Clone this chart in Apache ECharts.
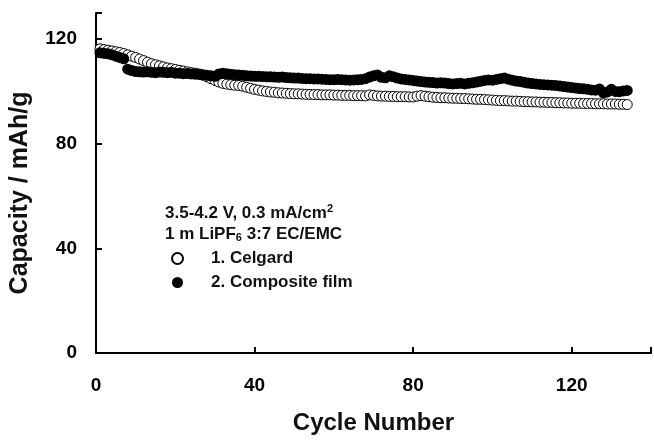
<!DOCTYPE html>
<html>
<head>
<meta charset="utf-8">
<script src="https://cdn.jsdelivr.net/npm/echarts@6/dist/echarts.min.js"></script>
<style>html,body{margin:0;padding:0;background:#fff;}#c{width:654px;height:440px;}</style>
</head>
<body>
<div id="c"></div>
<script>
const xTicks = [0, 40, 80, 120];
const yTicks = [0, 40, 80, 120];
const seriesNames = ['1. Celgard', '2. Composite film'];
const celgard = [
116.3,116.0,115.8,115.5,115.2,114.9,114.5,
114.0,113.5,113.0,112.4,111.8,111.2,110.6,
110.2,109.8,109.4,109.0,108.7,108.4,
108.1,107.8,107.5,107.2,107.0,106.7,106.2,105.6,104.9,104.2,
103.6,103.1,102.8,102.6,102.4,102.3,102.0,101.6,101.2,100.8,
100.5,100.2,100.0,99.8,99.7,99.5,99.4,99.3,99.2,99.1,
99.1,99.0,98.9,98.9,98.8,98.8,98.7,98.7,98.7,98.6,
98.6,98.5,98.5,98.5,98.4,98.4,98.4,98.3,98.7,98.5,
98.3,98.2,98.2,98.1,98.1,98.0,98.0,98.0,97.9,97.9,
98.2,98.4,98.2,98.0,97.8,97.7,97.6,97.6,97.5,97.4,
97.4,97.3,97.3,97.2,97.1,97.0,97.0,96.9,96.8,96.7,
96.6,96.5,96.5,96.4,96.3,96.3,96.2,96.1,96.1,96.0,
96.0,95.9,95.9,95.8,95.8,95.7,95.7,95.6,95.6,95.5,
95.5,95.5,95.4,95.4,95.4,95.3,95.3,95.3,95.2,95.2,
95.2,95.1,95.1,95.0
];
const composite = [
114.8,114.6,114.4,114.0,113.5,113.0,112.5,
108.5,108.0,107.6,107.5,107.4,107.5,107.3,
107.2,107.4,107.3,107.2,107.3,107.0,
107.0,106.8,106.9,106.7,106.6,106.5,106.4,106.2,106.0,105.8,
106.7,107.0,106.8,106.6,106.4,106.3,106.2,106.0,105.9,105.8,
105.8,105.7,105.6,105.6,105.5,105.4,105.5,105.3,105.2,105.1,
105.1,105.0,104.9,104.9,104.8,104.8,104.7,104.6,104.5,104.5,
104.6,104.5,104.4,104.3,104.4,104.5,104.6,104.9,105.5,106.0,
106.3,105.4,105.2,106.0,105.6,105.1,104.8,104.6,104.4,104.2,
104.0,103.8,103.6,103.5,103.4,103.2,103.3,103.2,103.0,102.9,
103.0,103.1,102.9,103.1,103.3,103.6,103.9,104.2,104.4,104.3,
104.6,104.9,105.1,104.7,104.3,104.0,103.8,103.5,103.2,103.0,
102.9,102.7,102.6,102.5,102.4,102.3,102.1,101.9,101.7,101.5,
101.3,101.1,101.0,100.8,100.6,100.5,100.9,99.5,99.8,100.8,
100.0,99.9,100.2,100.4
];
const cycles = celgard.map((_, i) => i + 1);
const font = '"Liberation Sans", Arial, sans-serif';

const chart = echarts.init(document.getElementById('c'), null, {renderer: 'canvas'});
chart.setOption({
  animation: false,
  backgroundColor: '#fff',
  grid: {left: 96, right: 1, top: 13, bottom: 82, containLabel: false},
  xAxis: {
    type: 'value', min: 0, max: 140, interval: 40,
    name: 'Cycle Number', nameLocation: 'middle', nameGap: 58,
    nameTextStyle: {fontFamily: font, fontWeight: 'bold', fontSize: 24, color: '#111'},
    axisLine: {show: true, lineStyle: {color: '#000', width: 2}},
    axisTick: {show: true, inside: true, length: 6, lineStyle: {color: '#000', width: 2}},
    axisLabel: {margin: 23, fontFamily: font, fontWeight: 'bold', fontSize: 19, color: '#000',
      formatter: v => xTicks.includes(v) ? String(v) : ''},
    splitLine: {show: false}
  },
  yAxis: {
    type: 'value', min: 0, max: 130, interval: 40,
    name: 'Capacity / mAh/g', nameLocation: 'middle', nameGap: 63,
    nameTextStyle: {fontFamily: font, fontWeight: 'bold', fontSize: 25, color: '#111', padding: [0, 20, 0, 0]},
    axisLine: {show: true, lineStyle: {color: '#000', width: 2}},
    axisTick: {show: true, inside: true, length: 6, lineStyle: {color: '#000', width: 2}},
    axisLabel: {margin: 19, fontFamily: font, fontWeight: 'bold', fontSize: 19, color: '#000',
      formatter: v => yTicks.includes(v) ? String(v) : ''},
    splitLine: {show: false}
  },
  legend: {
    orient: 'vertical', left: 166, top: 245, itemGap: 7,
    itemWidth: 11, itemHeight: 11, icon: 'circle',
    textStyle: {fontFamily: font, fontWeight: 'bold', fontSize: 17, color: '#111', padding: [0, 0, 0, 23]},
    data: seriesNames
  },
  graphic: [
    {type: 'text', left: 165, top: 203, style: {
      text: '{a|3.5-4.2 V, 0.3 mA/cm}{s|2}',
      rich: {a: {fontFamily: font, fontWeight: 'bold', fontSize: 17, fill: '#111'},
             s: {fontFamily: font, fontWeight: 'bold', fontSize: 11, fill: '#111', verticalAlign: 'top', padding: [0,0,9,0]}}
    }},
    {type: 'text', left: 165, top: 226, style: {
      text: '{a|1 m LiPF}{b|6}{a| 3:7 EC/EMC}',
      rich: {a: {fontFamily: font, fontWeight: 'bold', fontSize: 17, fill: '#111'},
             b: {fontFamily: font, fontWeight: 'bold', fontSize: 11, fill: '#111', padding: [7,0,0,0]}}
    }}
  ],
  series: [
    {name: seriesNames[0], type: 'scatter', symbol: 'circle', symbolSize: 10,
     itemStyle: {color: '#fff', borderColor: '#000', borderWidth: 1, opacity: 1},
     data: cycles.map((c, i) => [c, celgard[i]]), z: 2},
    {name: seriesNames[1], type: 'scatter', symbol: 'circle', symbolSize: 11,
     itemStyle: {color: '#000', borderColor: '#000', borderWidth: 0, opacity: 1},
     data: cycles.map((c, i) => [c, composite[i]]), z: 3}
  ]
});
</script>
</body>
</html>
